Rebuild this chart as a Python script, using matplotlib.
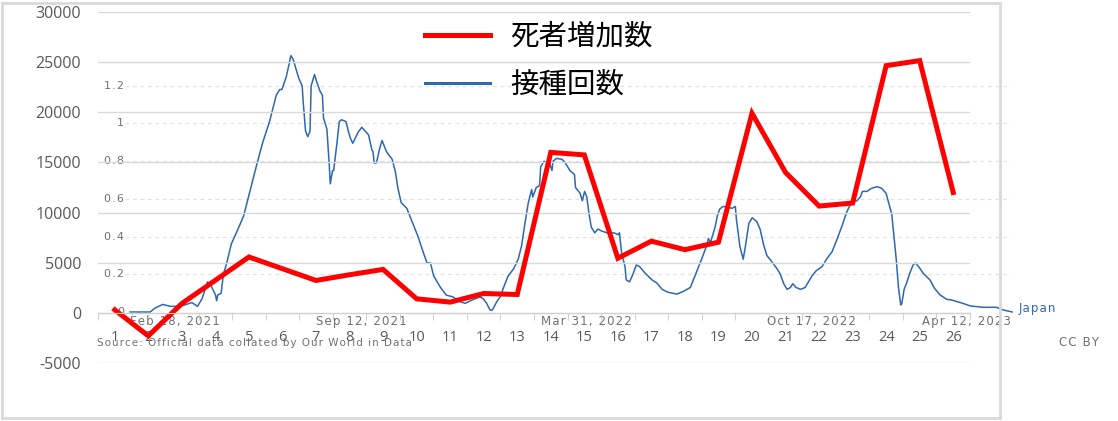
import numpy as np
import matplotlib
matplotlib.use("Agg")
import matplotlib.pyplot as plt
from matplotlib.patches import Rectangle

plt.rcParams["axes.unicode_minus"] = False

W, H = 1118, 421

# red series: deaths increase per period (categories 1..26)
categories = [str(i) for i in range(1, 27)]
deaths = [300, -2300, 930, 3250, 5570, 4400, 3230, 3800, 4330, 1400,
          1070, 1930, 1830, 16000, 15750, 5450, 7150, 6300, 7050, 19900,
          14000, 10650, 10950, 24650, 25150, 12000]

# blue series: OWID daily doses per hundred, days since Feb 18, 2021
vax_day = [0, 18, 22, 29, 36, 40, 44, 50, 55, 60, 64, 69, 72, 76, 77, 78, 81, 83, 86, 90,
           96, 101, 107, 113, 118, 124, 130, 133, 135, 139, 143, 145, 150, 153, 154, 156, 158, 160, 161, 164,
           166, 169, 171, 172, 175, 177, 178, 180, 181, 184, 186, 188, 192, 194, 196, 198, 203, 206, 212, 215,
           216, 217, 219, 222, 224, 228, 233, 236, 238, 241, 246, 250, 256, 261, 264, 267, 270, 276, 281, 287,
           293, 298, 304, 311, 314, 317, 320, 322, 326, 329, 332, 336, 341, 345, 348, 351, 354, 357, 358, 361,
           364, 365, 368, 370, 373, 375, 376, 379, 384, 387, 391, 395, 396, 400, 402, 404, 406, 408, 410, 413,
           416, 419, 424, 430, 434, 435, 437, 440, 441, 444, 447, 450, 453, 458, 464, 468, 473, 478, 486, 492,
           498, 502, 508, 513, 514, 516, 520, 522, 524, 527, 532, 535, 538, 539, 542, 545, 547, 550, 553, 557,
           560, 563, 566, 570, 575, 578, 581, 584, 587, 589, 592, 596, 600, 603, 606, 610, 615, 619, 624, 628,
           633, 637, 641, 646, 649, 651, 655, 659, 664, 668, 672, 674, 677, 679, 681, 683, 685, 686, 688, 690,
           693, 696, 698, 701, 705, 711, 715, 720, 726, 730, 738, 747, 758, 770, 776, 784]
vax_rate = [0.0, 0.0, 0.02, 0.04, 0.03, 0.03, 0.03, 0.04, 0.05, 0.03, 0.07, 0.16, 0.14, 0.09, 0.06, 0.09, 0.10, 0.20, 0.26, 0.36,
            0.44, 0.51, 0.65, 0.79, 0.90, 1.01, 1.15, 1.18, 1.18, 1.25, 1.36, 1.34, 1.24, 1.20, 1.11, 0.96, 0.93, 0.96, 1.20, 1.26,
            1.22, 1.17, 1.15, 1.03, 0.97, 0.79, 0.68, 0.75, 0.75, 0.90, 1.01, 1.02, 1.01, 0.96, 0.92, 0.895, 0.956, 0.98, 0.94, 0.86,
            0.85, 0.79, 0.79, 0.87, 0.91, 0.85, 0.81, 0.74, 0.66, 0.58, 0.55, 0.49, 0.40, 0.31, 0.26, 0.26, 0.19, 0.13, 0.09, 0.08,
            0.055, 0.046, 0.064, 0.08, 0.07, 0.046, 0.01, 0.01, 0.055, 0.08, 0.13, 0.19, 0.23, 0.28, 0.35, 0.47, 0.58, 0.65, 0.61, 0.66,
            0.67, 0.77, 0.80, 0.79, 0.79, 0.75, 0.80, 0.815, 0.81, 0.79, 0.75, 0.73, 0.66, 0.63, 0.59, 0.64, 0.61, 0.52, 0.45, 0.42,
            0.44, 0.43, 0.42, 0.42, 0.41, 0.42, 0.31, 0.24, 0.17, 0.16, 0.20, 0.25, 0.24, 0.205, 0.17, 0.155, 0.12, 0.105, 0.095, 0.11,
            0.13, 0.19, 0.28, 0.36, 0.39, 0.37, 0.45, 0.51, 0.545, 0.56, 0.555, 0.55, 0.56, 0.49, 0.35, 0.28, 0.35, 0.47, 0.50, 0.48,
            0.44, 0.36, 0.30, 0.27, 0.23, 0.20, 0.15, 0.12, 0.13, 0.15, 0.13, 0.12, 0.13, 0.16, 0.19, 0.22, 0.24, 0.28, 0.32, 0.38,
            0.46, 0.53, 0.58, 0.59, 0.61, 0.64, 0.64, 0.656, 0.665, 0.656, 0.63, 0.585, 0.52, 0.40, 0.28, 0.13, 0.037, 0.046, 0.12, 0.15,
            0.205, 0.25, 0.26, 0.24, 0.205, 0.17, 0.126, 0.09, 0.067, 0.064, 0.05, 0.032, 0.025, 0.025, 0.011, 0.0]

date_ticks = [0, 206, 406, 606, 783]
date_labels = ["Feb 18, 2021", "Sep 12, 2021", "Mar 31, 2022", "Oct 17, 2022", "Apr 12, 2023"]
rate_ticks = [0, 0.2, 0.4, 0.6, 0.8, 1, 1.2]
legend_labels = ["死者増加数", "接種回数"]

OWID_FONT = ["DejaVu Sans"]
OWID_GRAY = "#707070"


def spaced(s):
    # the pasted OWID picture is stretched sideways, so widen the letters a bit
    return "\u200a".join(s)


fig = plt.figure(figsize=(W / 100, H / 100), dpi=100)

# main (Excel) axes
ax = fig.add_axes([98 / W, (H - 363) / H, 872 / W, 351 / H])
ax.set_zorder(2)
ax.patch.set_visible(False)
x = np.arange(1, len(categories) + 1)
red, = ax.plot(x, deaths, color="#ff0000", lw=3.6, solid_joinstyle="miter")
ax.set_xlim(0.5, 26.5)
ax.set_ylim(-5000, 30000)
ax.set_yticks(range(-5000, 30001, 5000))
ax.yaxis.grid(True, color="#d9d9d9", lw=1)
for s in ["left", "right", "top"]:
    ax.spines[s].set_visible(False)
ax.spines["bottom"].set_position(("data", 0))
ax.spines["bottom"].set_color("#d0d0d0")
ax.set_xticks(x)
ax.set_xticklabels(categories)
ax.set_xticks(np.arange(0.5, 27), minor=True)
ax.tick_params(axis="x", which="major", length=0, pad=12.5, labelsize=10.5, labelcolor="#595959")
ax.tick_params(axis="x", which="minor", length=5, color="#c8c8c8")
ax.tick_params(axis="y", length=0, pad=12, labelsize=11.5, labelcolor="#595959")
for lab in ax.get_xticklabels() + ax.get_yticklabels():
    lab.set_fontfamily("Open Sans")

# pasted OWID chart
ax2 = fig.add_axes([125 / W, (H - 312) / H, 886 / W, 272 / H])
ax2.set_zorder(1)
ax2.axis("off")
ax2.set_xlim(-4.44, 783)
ax2.set_ylim(0, 272 / 188.5)
for v in rate_ticks[1:]:
    ax2.axhline(v, color="#e2e2e2", lw=0.9, ls=(0, (3, 3)))
    ax2.text(-5.5, v, spaced(f"{v:g}"), ha="right", va="center", fontsize=8,
             color=OWID_GRAY, family=OWID_FONT)
ax2.text(-5.5, 0, "0", ha="right", va="center", fontsize=8, color=OWID_GRAY, family=OWID_FONT)
blue, = ax2.plot(vax_day, vax_rate, color="#2d68b0", lw=1.1, clip_on=False)
for d, lab in zip(date_ticks, date_labels):
    ha = "left" if d == date_ticks[0] else ("right" if d == date_ticks[-1] else "center")
    ax2.text(d, -0.05, spaced(lab), ha=ha, va="center", fontsize=8.5,
             color=OWID_GRAY, family=OWID_FONT, clip_on=False)
ax2.text(790, 0.016, spaced("Japan"), ha="left", va="center", fontsize=8.5,
         color="#2d68b0", family=OWID_FONT, clip_on=False)
fig.text(97 / W, 1 - 343 / H, spaced("Source: Official data collated by Our World in Data"),
         ha="left", va="center", fontsize=7.5, color=OWID_GRAY, family=OWID_FONT)
fig.text(1099 / W, 1 - 343 / H, spaced("CC BY"), ha="right", va="center", fontsize=8.5,
         color=OWID_GRAY, family=OWID_FONT)

leg = fig.legend([red, blue], legend_labels, loc="upper left",
                 bbox_to_anchor=(425 / W, 1 - 22 / H), frameon=False,
                 borderaxespad=0, borderpad=0, handlelength=2.3, handletextpad=0.7,
                 labelspacing=0.62, prop={"family": ["Noto Sans CJK JP", "DejaVu Sans"], "size": 20.5})
leg.legend_handles[1].set_linewidth(2.2)
leg.set_zorder(5)

fig.patches.append(Rectangle((2 / W, 3 / H), 998 / W, 415 / H, transform=fig.transFigure,
                             fill=False, ec="#d9d9d9", lw=2))

fig.savefig("out.png", dpi=100)
